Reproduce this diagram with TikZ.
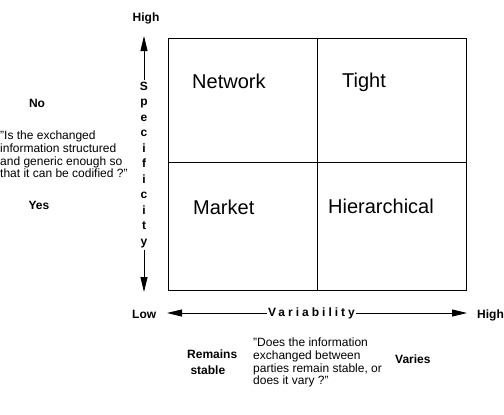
\documentclass[tikz,border=0pt]{standalone}
\usepackage{fontspec}
\setmainfont{Liberation Sans}
\usetikzlibrary{arrows.meta}

\begin{document}
\begin{tikzpicture}[x=1pt,y=-1pt,
  quad/.style={font=\fontsize{20}{24}\selectfont,inner sep=0pt,anchor=base west},
  lbl/.style={font=\bfseries\fontsize{12}{14}\selectfont,inner sep=0pt},
  quote/.style={font=\fontsize{12}{12.7}\selectfont,align=left,inner sep=0pt,anchor=north west},
  axarrow/.style={line width=0.8pt,-{Triangle[length=15pt,width=7pt]}}]
\useasboundingbox (0,0) rectangle (504,415);
% the four quadrants
\draw[line width=0.9pt] (168,38) rectangle (466,290);
\draw[line width=0.9pt] (317,38) -- (317,290);
\draw[line width=0.9pt] (168,162) -- (466,162);
\node[quad] (network) at (192,88) {Network};
\node[quad] (tight) at (342,87) {Tight};
\node[quad] (market) at (193,214) {Market};
\node[quad] (hier) at (328,213) {Hierarchical};
% vertical axis
\coordinate (ytop) at (144,36);
\coordinate (ybot) at (144,292);
\node[lbl,align=center,font=\bfseries\fontsize{12}{15.5}\selectfont,inner sep=1.5pt] (spec) at (144,165) {S\\p\\e\\c\\i\\f\\i\\c\\i\\t\\y};
\draw[axarrow] (spec) -- (ytop);
\draw[axarrow] (spec) -- (ybot);
\node[lbl,anchor=base] (yhigh) at (146,21) {High};
\node[lbl,anchor=base] (yno) at (37,107) {No};
\node[lbl,anchor=base] (yyes) at (39,209) {Yes};
\node[quote] (yq) at (0,131) {"Is the exchanged\\information structured\\and generic enough so\\that it can be codified ?"};
% horizontal axis
\coordinate (xleft) at (167,313);
\coordinate (xright) at (467,313);
\node[lbl,font=\bfseries\fontsize{12}{14}\selectfont\addfontfeature{LetterSpace=25},inner sep=1pt] (var) at (311.5,313) {Variability};
\draw[axarrow] (var) -- (xleft);
\draw[axarrow] (var) -- (xright);
\node[lbl,anchor=base west] (xlow) at (132,318) {Low};
\node[lbl,anchor=base west] (xhigh) at (477,318) {High};
\node[lbl,align=left,anchor=north west,font=\bfseries\fontsize{12}{16}\selectfont] (xstable) at (187,349.5) {Remains\\\ stable};
\node[quote] (xq) at (253,338) {"Does the information\\exchanged between\\parties remain stable, or\\does it vary ?"};
\node[lbl,anchor=base west] (xvaries) at (395,363) {Varies};
\end{tikzpicture}
\end{document}
